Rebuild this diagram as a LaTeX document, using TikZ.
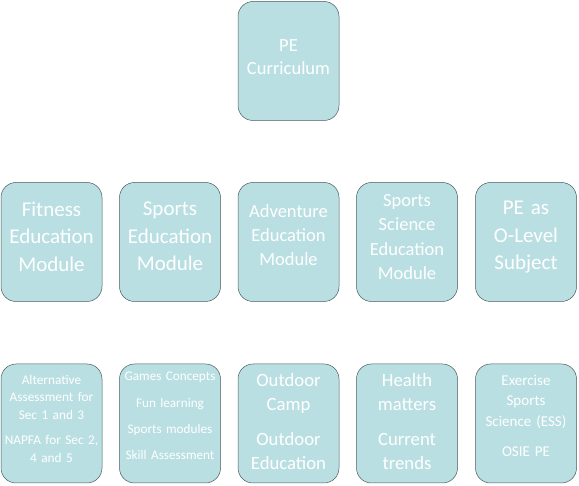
\documentclass[tikz,border=0pt]{standalone}
\usepackage{fontspec}
\setmainfont{Carlito}
\usetikzlibrary{positioning}
\definecolor{cbox}{HTML}{B9DFE2}
\definecolor{cedge}{HTML}{4A5A5C}
\tikzset{
  every picture/.style={x=1pt, y=1pt},
  box/.style={draw=cedge, line width=0.5pt, fill=cbox, rounded corners=15pt,
    inner sep=0pt, minimum width=101pt, minimum height=119pt},
  txt/.style={text=white, align=center, inner sep=0pt, text width=99pt},
  fs/.style 2 args={font=\fontsize{#1}{#2}\selectfont},
}

\begin{document}
\begin{tikzpicture}
  \useasboundingbox (0,0) rectangle (579,-486);
  % top
  \node[box, label={[txt, fs={18.5}{23}, yshift=3.5pt]center:{PE\\Curriculum}}] (pe) at (288.5,-61) {};
  % modules
  \node[box, label={[txt, fs={21}{27.5}, yshift=5.5pt]center:{Fitness\\Education\\Module}}] (fitness) at (51.5,-242) {};
  \node[box, label={[txt, fs={21}{27.5}, yshift=5.5pt]center:{Sports\\Education\\Module}}] (sports) at (170,-242) {};
  \node[box, label={[txt, fs={18.5}{24}, yshift=6.5pt]center:{Adventure\\Education\\Module}}] (adventure) at (288.5,-242) {};
  \node[box, label={[txt, fs={18.5}{24.5}, yshift=5pt]center:{Sports\\Science\\Education\\Module}}] (science) at (407,-242) {};
  \node[box, label={[txt, fs={21}{27.5}, yshift=4.5pt]center:{PE as\\O-Level\\Subject}}] (olevel) at (526,-242) {};
  % contents
  \node[box, label={[txt, fs={13.3}{17.5}, yshift=5pt]center:{Alternative\\Assessment for\\Sec 1 and 3\\[8pt] NAPFA for Sec 2,\\4 and 5}}] (fitnessc) at (51.5,-423.5) {};
  \node[box, label={[txt, fs={13.2}{26.3}, yshift=7.5pt]center:{Games Concepts\\Fun learning\\Sports modules\\Skill Assessment}}] (sportsc) at (170,-423.5) {};
  \node[box, label={[txt, fs={18.7}{24}, yshift=2pt]center:{Outdoor\\Camp\\[11pt] Outdoor\\Education}}] (adventurec) at (288.5,-423.5) {};
  \node[box, label={[txt, fs={18.7}{24}, yshift=2pt]center:{Health\\matters\\[11pt] Current\\trends}}] (sciencec) at (407,-423.5) {};
  \node[box, label={[txt, fs={15}{20.5}, yshift=7.5pt]center:{Exercise\\Sports\\Science (ESS)\\[10pt] OSIE PE}}] (olevelc) at (526,-423.5) {};
\end{tikzpicture}
\end{document}
